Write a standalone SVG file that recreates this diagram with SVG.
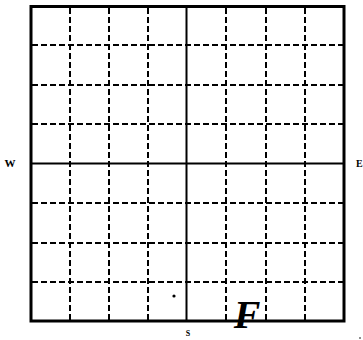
<svg xmlns="http://www.w3.org/2000/svg" width="363" height="340" viewBox="0 0 363 340">
<style>
.dash{stroke:#000;stroke-width:2;stroke-dasharray:6 3;fill:none}
.solid{stroke:#000;fill:none}
.lbl{font-family:"Liberation Serif",serif;font-weight:bold;fill:#000}
</style>
<rect width="363" height="340" fill="#fff"/>
<g id="grid">
<g id="dashed">
<path class="dash" d="M70 8V320M109 8V320M148 8V320M226 8V320M266 8V320M305 8V320"/>
<path class="dash" d="M32 45H343M32 85H343M32 124H343M32 203H343M32 243H343M32 282H343"/>
</g>
<path class="solid" stroke-width="2" d="M186.5 7V321M31 163.5H344"/>
<rect class="solid" stroke-width="3" x="31" y="6.5" width="313" height="314.5"/>
</g>
<circle cx="174" cy="296" r="1.6" fill="#000"/>
<text class="lbl" x="10" y="167" font-size="11" text-anchor="middle">W</text>
<text class="lbl" x="356" y="167" font-size="10">E</text>
<text class="lbl" x="188" y="336" font-size="8" text-anchor="middle">S</text>
<text class="lbl" x="247" y="328" font-size="40" font-style="italic" text-anchor="middle">F</text>
<circle cx="360" cy="338" r="0.8" fill="#000"/>
</svg>
